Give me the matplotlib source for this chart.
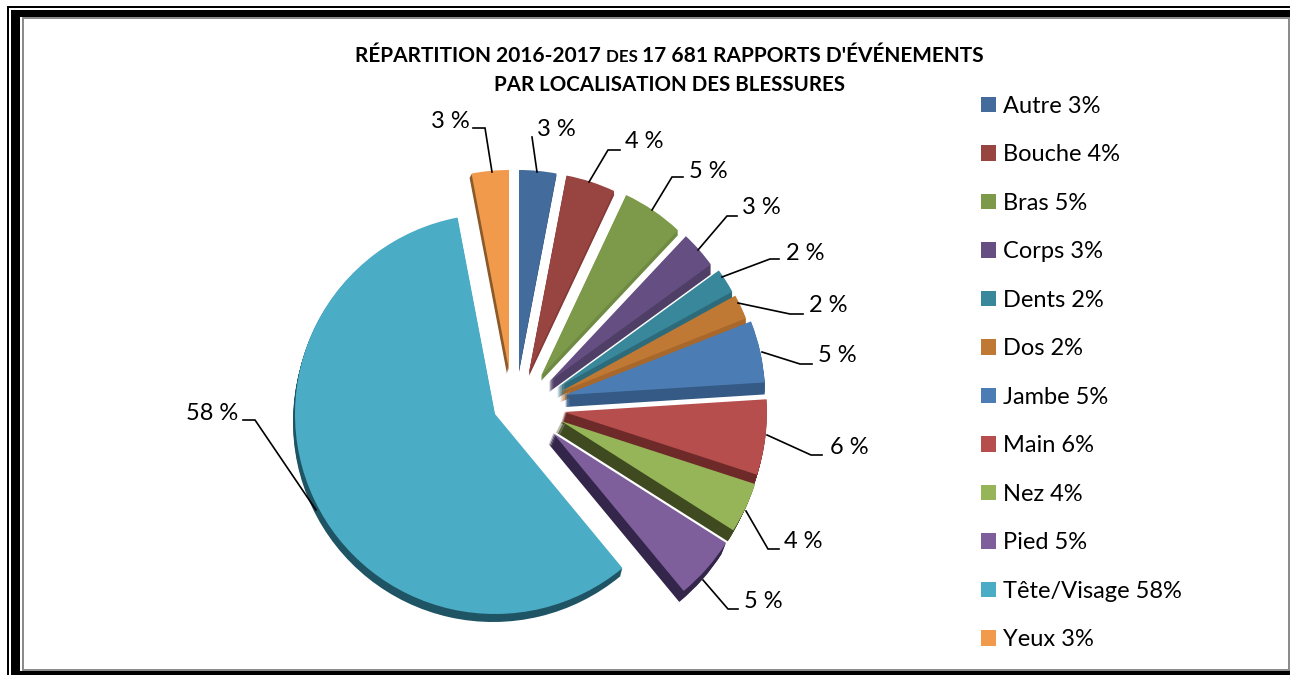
import matplotlib
matplotlib.use("Agg")
import matplotlib.pyplot as plt
from matplotlib.patches import Rectangle, Wedge

W, H = 1290, 675

names = ["Autre", "Bouche", "Bras", "Corps", "Dents", "Dos", "Jambe", "Main",
         "Nez", "Pied", "Tête/Visage", "Yeux"]
values = [3, 4, 5, 3, 2, 2, 5, 6, 4, 5, 58, 3]
colors = ["#436b9b", "#984441", "#7c9a4a", "#654f82", "#39879b", "#c07934",
          "#4b7cb3", "#b54e4c", "#96b558", "#7e5f9b", "#4bacc6", "#f29a4c"]
side_colors = ["#37587f", "#853a38", "#6f8a42", "#4f3e66", "#2d6a7a", "#a8672b",
               "#355a85", "#6d2a28", "#3f4a20", "#33264a", "#1f5464", "#8a5a2a"]

# where each exploded slice has its tip, its thickness and how far the side leans
tips = [(519, 370), (529, 372), (541, 376), (549, 382), (557, 388), (560, 392),
        (565, 395), (564, 412), (561, 421), (553, 433), (495, 414), (509, 370)]
depths = [2, 4, 5, 10, 10, 10, 12, 11, 11, 11, 8, 4]
leans = [0, 0, 0, 0, 0, 0, 0, -0.3, -0.5, -0.4, -0.25, -0.5]
radii = [200, 200, 200, 200, 200, 200, 200, 203, 204, 205, 200, 200]

# value label text centre, then the leader line running to the slice
label_pos = [(556, 129), (644, 142), (708, 171), (761, 208), (805, 253), (828, 306),
             (837, 356), (849, 447), (803, 542), (763, 601), (212, 414), (450, 122)]
leaders = [
    [(532, 137), (537, 172)],
    [(620, 150), (608, 150), (589, 182)],
    [(683, 177), (672, 177), (652, 210)],
    [(737, 216), (727, 216), (698, 250)],
    [(779, 259), (770, 259), (722, 277)],
    [(803, 314), (790, 314), (738, 303)],
    [(812, 364), (800, 364), (762, 352)],
    [(822, 455), (811, 455), (767, 435)],
    [(779, 549), (768, 549), (746, 511)],
    [(738, 609), (728, 609), (703, 580)],
    [(243, 420), (255, 420), (316, 510)],
    [(473, 128), (485, 128), (492, 172)],
]

plt.rcParams["font.family"] = ["Lato", "DejaVu Sans"]
fig = plt.figure(figsize=(W / 100, H / 100), dpi=100, facecolor="white")
ax = fig.add_axes([0, 0, 1, 1])
ax.set_axis_off()


def flip(y):
    return H - y


def frame_rect(x0, y0, x1, y1, color):
    ax.add_patch(Rectangle((x0, flip(y1)), x1 - x0, y1 - y0, fc=color, ec="none", zorder=0))


# double border, runs off the right and bottom edges
frame_rect(7, 6, W + 5, H + 5, "black")
frame_rect(9, 8, W + 5, H + 5, "white")
frame_rect(11, 10, W + 5, H + 5, "black")
frame_rect(20, 17, 1290, 671, "white")
frame_rect(22, 17, 1290, 671, "#8c8c8c")
frame_rect(24, 19, 1288, 669, "white")

wedges, _ = ax.pie(values, colors=colors, startangle=90, counterclock=False,
                   radius=200, center=(W / 2, H / 2), frame=True)

# extrude every slice downwards in a darker shade, then lift the top face
for i, w in enumerate(wedges):
    x, y = tips[i]
    w.set_center((x, flip(y)))
    w.set_radius(radii[i])
    w.set_zorder(20 + i)
    w.set_linewidth(0)
    for d in range(1, depths[i] + 1):
        ax.add_patch(Wedge((x + leans[i] * d, flip(y + d)), radii[i], w.theta1, w.theta2,
                           fc=side_colors[i], ec="none", zorder=5 + i))

ax.set_xlim(0, W)
ax.set_ylim(0, H)
ax.set_aspect("equal")

for i, v in enumerate(values):
    xs = [p[0] for p in leaders[i]]
    ys = [flip(p[1]) for p in leaders[i]]
    ax.plot(xs, ys, color="black", lw=1.2, solid_joinstyle="miter", zorder=40)
    ax.text(label_pos[i][0], flip(label_pos[i][1]), f"{v} %", fontsize=17,
            color="black", ha="center", va="center", zorder=41)

# title: first line has a smaller "DES"
fig.canvas.draw()
renderer = fig.canvas.get_renderer()
parts = [("RÉPARTITION 2016-2017 ", 15.0), ("DES ", 12.2), ("17 681 RAPPORTS D'ÉVÉNEMENTS", 15.0)]
x = 355
for txt, size in parts:
    t = ax.text(x, flip(62), txt, fontsize=size, fontweight="bold", ha="left",
                va="baseline", color="black", zorder=41)
    x += t.get_window_extent(renderer).width
ax.text(669, flip(91), "PAR LOCALISATION DES BLESSURES", fontsize=14.8, fontweight="bold",
        ha="center", va="baseline", color="black", zorder=41)

handles = [Rectangle((0, 0), 1, 1, fc=c, ec="none") for c in colors]
labels = [f"{n} {v}%" for n, v in zip(names, values)]
ax.legend(handles, labels, loc="upper left", bbox_to_anchor=(981 / W, 1 - 96 / H),
          frameon=False, fontsize=17, handlelength=0.635, handleheight=0.635,
          handletextpad=0.3, labelspacing=1.164, borderpad=0, borderaxespad=0)

fig.savefig("out.png", dpi=100)
